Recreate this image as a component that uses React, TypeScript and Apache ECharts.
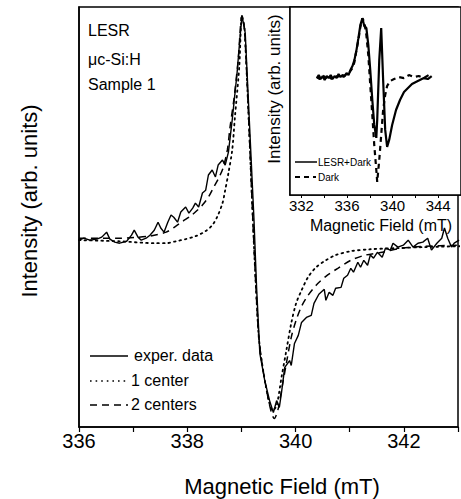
import React, { useEffect, useRef } from "react";
import * as echarts from "echarts";

// ---------- Main plot data ----------
const expField = [336.00,336.09,336.20,336.33,336.42,336.51,336.57,336.66,336.75,336.88,336.97,337.02,337.09,337.15,337.24,337.31,337.39,337.46,337.51,337.57,337.64,337.70,337.75,337.82,337.88,337.97,338.03,338.10,338.15,338.21,338.28,338.34,338.39,338.46,338.52,338.57,338.65,338.70,338.76,338.83,338.92,338.97,339.01,339.07,339.23,339.28,339.34,339.43,339.52,339.59,339.65,339.70,339.74,339.80,339.89,339.92,339.98,340.05,340.11,340.20,340.29,340.34,340.43,340.53,340.56,340.62,340.69,340.74,340.84,340.89,340.96,341.02,341.07,341.15,341.20,341.26,341.33,341.38,341.44,341.51,341.60,341.66,341.75,341.80,341.89,341.99,342.08,342.17,342.26,342.35,342.44,342.51,342.61,342.70,342.75,342.81,342.88,342.93,343.02];
const expIntensity = [-0.037,-0.028,-0.037,-0.032,-0.023,0.000,-0.032,-0.046,-0.051,-0.042,-0.014,0.009,-0.023,-0.037,-0.028,-0.014,0.009,0.046,0.019,0.000,0.046,0.079,0.069,0.046,0.093,0.116,0.088,0.111,0.134,0.116,0.181,0.194,0.264,0.287,0.255,0.310,0.333,0.310,0.370,0.519,0.736,0.889,1.000,0.921,0.069,-0.255,-0.560,-0.685,-0.778,-0.833,-0.778,-0.810,-0.741,-0.625,-0.593,-0.616,-0.514,-0.477,-0.417,-0.394,-0.384,-0.329,-0.287,-0.264,-0.315,-0.278,-0.292,-0.259,-0.255,-0.213,-0.199,-0.167,-0.185,-0.139,-0.162,-0.130,-0.153,-0.106,-0.120,-0.093,-0.116,-0.074,-0.083,-0.051,-0.069,-0.060,-0.037,-0.069,-0.051,-0.046,-0.028,-0.083,-0.051,-0.028,0.019,-0.028,-0.069,-0.051,-0.037];

const oneField = [336.00,336.73,337.42,337.61,337.79,337.97,338.15,338.34,338.46,338.55,338.65,338.70,338.76,338.83,338.88,338.96,339.01,339.06,339.31,339.45,339.58,339.65,339.74,339.83,339.92,340.01,340.11,340.23,340.38,340.56,340.74,341.02,341.38,341.84,342.39,343.03];
const oneIntensity = [-0.037,-0.042,-0.051,-0.051,-0.042,-0.032,-0.019,0.005,0.032,0.069,0.134,0.194,0.273,0.380,0.532,0.764,1.000,0.930,-0.450,-0.710,-0.824,-0.801,-0.671,-0.546,-0.421,-0.329,-0.269,-0.208,-0.162,-0.130,-0.106,-0.088,-0.079,-0.074,-0.069,-0.065];

const twoField = [336.00,336.68,337.28,337.61,337.79,337.92,338.06,338.19,338.28,338.39,338.48,338.57,338.66,338.74,338.79,338.86,338.94,339.01,339.06,339.31,339.45,339.61,339.68,339.74,339.83,339.92,340.01,340.11,340.23,340.38,340.56,340.78,341.02,341.29,341.60,341.97,342.39,343.03];
const twoIntensity = [-0.028,-0.028,-0.019,0.000,0.028,0.051,0.074,0.102,0.125,0.162,0.204,0.245,0.296,0.380,0.486,0.611,0.796,1.000,0.930,-0.450,-0.710,-0.861,-0.815,-0.731,-0.606,-0.486,-0.407,-0.343,-0.292,-0.245,-0.204,-0.167,-0.130,-0.106,-0.093,-0.074,-0.065,-0.060];

const mainXTicks = [336, 337, 338, 339, 340, 341, 342, 343];
const legendLabels = ["exper. data", "1 center", "2 centers"];
const sampleTexts = ["LESR", "\u03bcc-Si:H", "Sample 1"];

// ---------- Inset data ----------
const insetSolidField = [333.35,333.52,333.70,333.87,334.04,334.22,334.39,334.57,334.74,334.91,335.09,335.26,335.43,335.61,335.78,335.96,336.13,336.30,336.48,336.65,336.83,337.00,337.17,337.35,337.52,337.70,337.87,338.04,338.22,338.39,338.57,338.65,338.83,339.00,339.17,339.35,339.52,339.70,339.96,340.30,340.65,341.00,341.35,341.70,342.04,342.39,342.74,343.09,343.43];
const insetSolidValue = [-0.017,0.033,-0.033,0.017,-0.050,0.017,-0.017,0.033,-0.033,0.017,-0.017,0.050,0.000,0.033,0.017,0.067,0.033,0.117,0.183,0.283,0.450,0.650,0.867,0.983,0.850,0.817,0.533,0.117,-0.383,-0.800,-1.017,-0.717,0.283,0.817,-0.050,-0.883,-1.167,-1.050,-0.800,-0.550,-0.383,-0.250,-0.183,-0.117,-0.083,-0.050,-0.017,-0.033,0.017];

const insetDashField = [333.35,333.61,333.87,334.13,334.39,334.65,334.91,335.17,335.43,335.70,335.96,336.22,336.48,336.65,336.83,337.00,337.17,337.35,337.52,337.70,337.87,338.04,338.22,338.39,338.57,338.65,338.83,339.00,339.17,339.35,339.52,339.78,340.13,340.57,341.00,341.43,341.87,342.30,342.74,343.17,343.43];
const insetDashValue = [0.000,-0.033,0.033,-0.017,0.017,-0.033,0.033,0.000,0.050,0.000,0.050,0.083,0.150,0.250,0.450,0.617,0.833,0.983,0.917,0.700,0.367,-0.133,-0.633,-1.133,-1.550,-1.750,-1.383,-0.967,-0.550,-0.300,-0.150,-0.067,-0.033,0.000,-0.017,0.033,0.000,0.017,-0.017,0.033,0.000];

const insetXLabels = [332, 336, 340, 344];
const insetXTicks = [332, 334, 336, 338, 340, 342, 344];
const insetLegendLabels = ["LESR+Dark", "Dark"];

const zip = (a: number[], b: number[]) => a.map((v, i) => [v, b[i]]);

const FONT = "'Liberation Sans', Arial, Helvetica, sans-serif";

export default function App() {
  const ref = useRef<HTMLDivElement>(null);
  useEffect(() => {
    if (!ref.current) return;
    const chart = echarts.init(ref.current, undefined, { renderer: "svg" });
    const black = "#000";
    const option: any = {
      animation: false,
      backgroundColor: "#fff",
      textStyle: { fontFamily: FONT, color: black },
      grid: [
        { left: 79, top: 7, right: -3, bottom: 72, show: true, borderColor: black, borderWidth: 1.5, backgroundColor: "transparent", z: 1 },
        { left: 290, top: 7, right: -2, bottom: 304, show: true, borderColor: black, borderWidth: 1.5, backgroundColor: "#fff", z: 5 },
      ],
      xAxis: [
        {
          type: "value", gridIndex: 0, min: 336, max: 343, interval: 1,
          axisLine: { show: true, onZero: false, lineStyle: { color: black, width: 1.5 } },
          axisTick: { show: true, length: 5, lineStyle: { color: black, width: 1.2 }, customValues: mainXTicks },
          axisLabel: {
            show: true, fontSize: 20, color: black, fontFamily: FONT, margin: 4,
            formatter: (v: number) => (v % 2 === 0 ? String(v) : ""),
          },
          splitLine: { show: false },
        },
        {
          type: "value", gridIndex: 1, min: 331, max: 346,
          axisLine: { show: true, onZero: false, lineStyle: { color: black, width: 1.5 } },
          axisTick: { show: true, length: 3, lineStyle: { color: black, width: 1 }, customValues: insetXTicks },
          axisLabel: { show: true, fontSize: 15, color: black, fontFamily: FONT, margin: 3, customValues: insetXLabels },
          splitLine: { show: false },
        },
      ],
      yAxis: [
        {
          type: "value", gridIndex: 0, min: -0.9, max: 1.04,
          axisLine: { show: true, onZero: false, lineStyle: { color: black, width: 1.5 } },
          axisTick: { show: false }, axisLabel: { show: false }, splitLine: { show: false },
        },
        {
          type: "value", gridIndex: 1, min: -1.97, max: 1.17,
          axisLine: { show: true, onZero: false, lineStyle: { color: black, width: 1.5 } },
          axisTick: { show: false }, axisLabel: { show: false }, splitLine: { show: false },
        },
      ],
      series: [
        {
          name: "1 center", type: "line", xAxisIndex: 0, yAxisIndex: 0, showSymbol: false, symbol: "none",
          data: zip(oneField, oneIntensity), smooth: 0.3,
          lineStyle: { color: black, width: 1.8, type: [1.6, 4], cap: "round" }, z: 2,
        },
        {
          name: "2 centers", type: "line", xAxisIndex: 0, yAxisIndex: 0, showSymbol: false, symbol: "none",
          data: zip(twoField, twoIntensity), smooth: 0.3,
          lineStyle: { color: black, width: 1.5, type: [7, 5] }, z: 2,
        },
        {
          name: "exper. data", type: "line", xAxisIndex: 0, yAxisIndex: 0, showSymbol: false, symbol: "none",
          data: zip(expField, expIntensity),
          lineStyle: { color: black, width: 1.4 }, z: 3,
        },
        {
          name: "Dark", type: "line", xAxisIndex: 1, yAxisIndex: 1, showSymbol: false, symbol: "none",
          data: zip(insetDashField, insetDashValue),
          lineStyle: { color: black, width: 2.2, type: [5, 4] }, z: 6,
        },
        {
          name: "LESR+Dark", type: "line", xAxisIndex: 1, yAxisIndex: 1, showSymbol: false, symbol: "none",
          data: zip(insetSolidField, insetSolidValue),
          lineStyle: { color: black, width: 2.2 }, z: 6,
        },
      ],
      graphic: [
        ...sampleTexts.map((t, i) => ({
          type: "text", left: 88, top: [22, 51, 76][i], z: 10,
          style: { text: t, fontSize: 16, fontFamily: FONT, fill: black },
        })),
        { type: "line", z: 10, shape: { x1: 90, y1: 356, x2: 128, y2: 356 }, style: { stroke: black, lineWidth: 1.5 } },
        { type: "line", z: 10, shape: { x1: 90, y1: 381, x2: 128, y2: 381 }, style: { stroke: black, lineWidth: 1.5, lineDash: [1.6, 4] } },
        { type: "line", z: 10, shape: { x1: 90, y1: 405, x2: 128, y2: 405 }, style: { stroke: black, lineWidth: 1.5, lineDash: [7, 5] } },
        ...legendLabels.map((t, i) => ({
          type: "text", x: [134, 131, 131][i], y: [355, 380, 404][i], z: 10,
          style: { text: t, fontSize: 16, fontFamily: FONT, fill: black, verticalAlign: "middle" },
        })),
        {
          type: "text", x: 282, y: 486, z: 10,
          style: { text: "Magnetic Field (mT)", fontSize: 22, fontFamily: FONT, fill: black, align: "center", verticalAlign: "middle" },
        },
        {
          type: "text", x: 29, y: 201, rotation: Math.PI / 2, z: 10,
          style: { text: "Intensity (arb. units)", fontSize: 22, fontFamily: FONT, fill: black, align: "center", verticalAlign: "middle" },
        },
        {
          type: "text", x: 381, y: 225, z: 10,
          style: { text: "Magnetic Field (mT)", fontSize: 16, fontFamily: FONT, fill: black, align: "center", verticalAlign: "middle" },
        },
        {
          type: "text", x: 274, y: 89, rotation: Math.PI / 2, z: 10,
          style: { text: "Intensity (arb. units)", fontSize: 17, fontFamily: FONT, fill: black, align: "center", verticalAlign: "middle" },
        },
        { type: "line", z: 10, shape: { x1: 295, y1: 162, x2: 317, y2: 162 }, style: { stroke: black, lineWidth: 1.5 } },
        { type: "line", z: 10, shape: { x1: 295, y1: 177, x2: 316, y2: 177 }, style: { stroke: black, lineWidth: 2, lineDash: [5, 4] } },
        ...insetLegendLabels.map((t, i) => ({
          type: "text", x: 318, y: [162, 177][i], z: 10,
          style: { text: t, fontSize: 10, fontFamily: FONT, fill: black, verticalAlign: "middle" },
        })),
      ],
    };
    chart.setOption(option);
    return () => chart.dispose();
  }, []);
  return (
    <div
      ref={ref}
      style={{ position: "fixed", left: 0, top: 0, width: 461, height: 499, overflow: "hidden", background: "#fff" }}
    />
  );
}
